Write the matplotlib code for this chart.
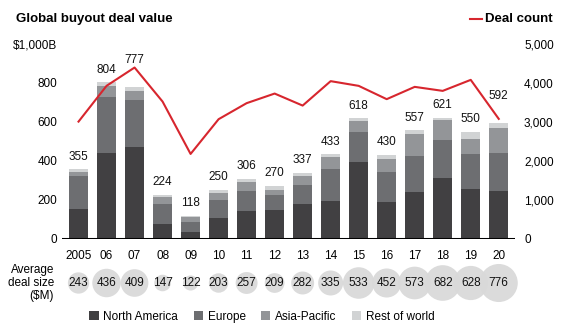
import matplotlib
matplotlib.use("Agg")
import matplotlib.pyplot as plt
from matplotlib.lines import Line2D
from matplotlib.patches import Patch
import numpy as np

plt.rcParams["font.family"] = ["Liberation Sans", "DejaVu Sans"]

years = ["2005", "06", "07", "08", "09", "10", "11", "12",
         "13", "14", "15", "16", "17", "18", "19", "20"]
totals = [355, 804, 777, 224, 118, 250, 306, 270,
          337, 433, 618, 430, 557, 621, 550, 592]
north_america = [152, 439, 468, 76, 35, 107, 143, 149,
                 175, 194, 395, 190, 240, 311, 255, 244]
europe = [168, 288, 243, 102, 50, 90, 100, 74,
          99, 161, 151, 151, 182, 196, 181, 197]
asia_pacific = [23, 56, 45, 37, 26, 37, 47, 26,
                47, 62, 60, 68, 114, 104, 78, 129]
rest_of_world = [12, 21, 21, 9, 7, 16, 16, 21,
                 16, 16, 12, 21, 21, 10, 36, 22]
deal_count = [3005, 3924, 4395, 3520, 2174, 3067, 3479, 3726,
              3417, 4045, 3924, 3582, 3898, 3795, 4078, 3075]
avg_deal_size = [243, 436, 409, 147, 122, 203, 257, 209,
                 282, 335, 533, 452, 573, 682, 628, 776]
left_ticks = [0, 200, 400, 600, 800, 1000]
left_ticklabels = ["0", "200", "400", "600", "800", "$1,000B"]
right_ticks = [0, 1000, 2000, 3000, 4000, 5000]
right_ticklabels = ["0", "1,000", "2,000", "3,000", "4,000", "5,000"]

region_names = ["North America", "Europe", "Asia-Pacific", "Rest of world"]
region_colors = ["#414042", "#6d6e71", "#939598", "#d1d3d4"]
red = "#d7262e"

W, H = 571, 327
fig = plt.figure(figsize=(W / 100, H / 100), dpi=100)
ax = fig.add_axes([62 / W, 1 - 238.5 / H, (515 - 62) / W, (238.5 - 44) / H])

x = np.arange(len(years))
bottom = np.zeros(len(years))
for vals, col in zip([north_america, europe, asia_pacific, rest_of_world], region_colors):
    ax.bar(x, vals, bottom=bottom, width=0.68, color=col, zorder=2)
    bottom += np.array(vals)

# labels above bars; two are lifted clear of the deal-count line
lifted = {"07", "20"}
for xi, yr, tot, top in zip(x, years, totals, bottom):
    off = 20 if yr in lifted else 9
    ax.annotate(str(tot), (xi, top), xytext=(0, off), textcoords="offset points",
                ha="center", va="center", fontsize=8.5, color="#111111")

ax.axhline(0, color="black", lw=2.2, zorder=3)
ax.set_xlim(-0.59, len(years) - 1 + 0.58)
ax.set_ylim(0, 1000)
ax.set_yticks(left_ticks)
ax.set_yticklabels(left_ticklabels)
ax.set_xticks(x)
ax.set_xticklabels(years)
ax.tick_params(axis="y", length=0, pad=3.5, labelsize=8.5)
ax.tick_params(axis="x", length=0, pad=8, labelsize=8.5)
for s in ax.spines.values():
    s.set_visible(False)

ax2 = ax.twinx()
ax2.plot(x, deal_count, color=red, lw=1.5, zorder=4)
ax2.set_ylim(0, 5000)
ax2.set_yticks(right_ticks)
ax2.set_yticklabels(right_ticklabels)
ax2.tick_params(axis="y", length=0, pad=6.5, labelsize=8.5)
for s in ax2.spines.values():
    s.set_visible(False)

# average deal size bubbles (area proportional to value)
axb = fig.add_axes([62 / W, 1 - 301 / H, (515 - 62) / W, 36 / H])
axb.set_xlim(ax.get_xlim())
axb.set_ylim(-1, 1)
axb.axis("off")
sizes = [750 * v / max(avg_deal_size) for v in avg_deal_size]
axb.scatter(x, np.zeros(len(x)), s=sizes, color="#d9d9d9", edgecolors="none",
            alpha=0.95, clip_on=False)
for xi, v in zip(x, avg_deal_size):
    axb.text(xi, 0, str(v), ha="center", va="center", fontsize=8.5, color="#111111")
fig.text(54 / W, 1 - 283 / H, "Average\ndeal size\n($M)", ha="right", va="center",
         multialignment="right", fontsize=8.5, linespacing=1.15)

# titles
fig.text(16 / W, 1 - 19 / H, "Global buyout deal value", fontsize=9.5,
         fontweight="bold", va="center")
fig.add_artist(Line2D([470 / W, 482 / W], [1 - 19 / H] * 2, color=red, lw=1.5,
                      transform=fig.transFigure))
fig.text(485 / W, 1 - 19 / H, "Deal count", fontsize=9.5, fontweight="bold", va="center")

handles = [Patch(facecolor=c, edgecolor="none") for c in region_colors]
fig.legend(handles, region_names, loc="center", bbox_to_anchor=(262 / W, 1 - 317 / H),
           ncol=4, frameon=False, fontsize=8.5, handlelength=0.8, handleheight=0.8,
           handletextpad=0.4, columnspacing=1.3)

fig.savefig("out.png", dpi=100)
